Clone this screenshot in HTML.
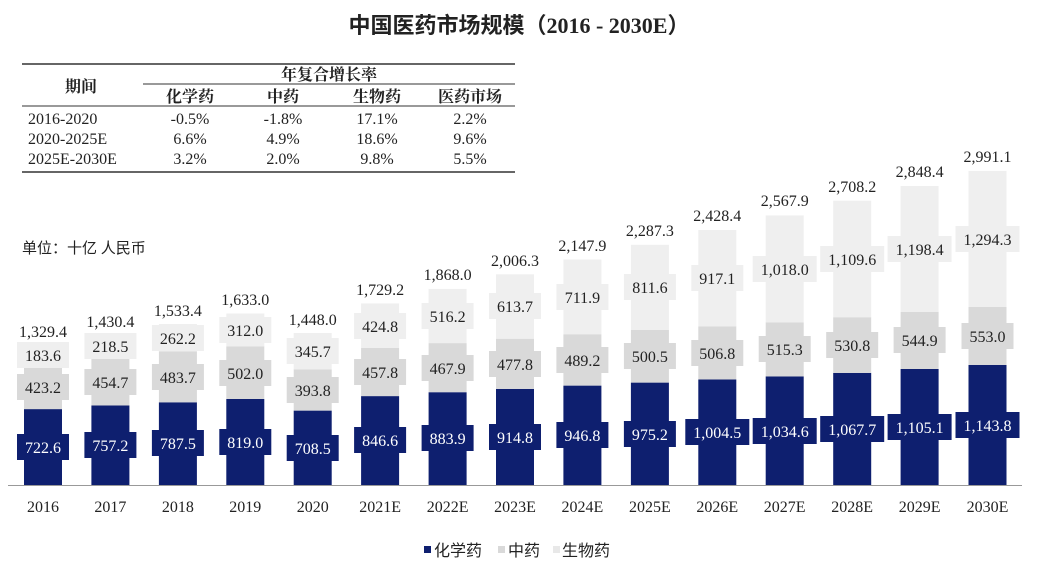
<!DOCTYPE html>
<html><head><meta charset="utf-8"><style>
html,body{margin:0;padding:0;background:#fff;}
svg{display:block;}
text{font-family:"Liberation Serif","Noto Serif CJK SC","Noto Sans CJK SC",serif;fill:#222;}
.cj{font-family:"Liberation Serif","Noto Sans CJK SC",sans-serif;}
.v{font-size:16px;text-anchor:middle;}
.w{fill:#fff;}
.c{fill:#0e1f6f;} .m{fill:#d9d9d9;} .b{fill:#efefef;}
</style></head><body>
<svg width="1039" height="570" viewBox="0 0 1039 570" xmlns="http://www.w3.org/2000/svg">
<text x="519" y="33" class="cj" font-size="22" font-weight="bold" text-anchor="middle">中国医药市场规模（2016 - 2030E）</text>
<line x1="22" y1="64" x2="515" y2="64" stroke="#333" stroke-width="1.5"/>
<line x1="143" y1="84" x2="515" y2="84" stroke="#333" stroke-width="1"/>
<line x1="22" y1="106" x2="515" y2="106" stroke="#333" stroke-width="1"/>
<line x1="22" y1="172" x2="515" y2="172" stroke="#333" stroke-width="1.5"/>
<g class="cj" font-size="16" text-anchor="middle" font-weight="bold">
<text x="81" y="92">期间</text>
<text x="329" y="80">年复合增长率</text>
<text x="190" y="102">化学药</text>
<text x="283" y="102">中药</text>
<text x="377" y="102">生物药</text>
<text x="470" y="102">医药市场</text>
</g>
<g font-size="16">
<text x="28" y="124">2016-2020</text>
<text x="28" y="144">2020-2025E</text>
<text x="28" y="164">2025E-2030E</text>
</g>
<g font-size="16" text-anchor="middle">
<text x="190" y="124">-0.5%</text><text x="283" y="124">-1.8%</text><text x="377" y="124">17.1%</text><text x="470" y="124">2.2%</text>
<text x="190" y="144">6.6%</text><text x="283" y="144">4.9%</text><text x="377" y="144">18.6%</text><text x="470" y="144">9.6%</text>
<text x="190" y="164">3.2%</text><text x="283" y="164">2.0%</text><text x="377" y="164">9.8%</text><text x="470" y="164">5.5%</text>
</g>
<text x="22" y="253" class="cj" font-size="15">单位：十亿 人民币</text>

<g transform="translate(43,0)">
<rect x="-19" y="409.1" width="38" height="75.9" class="c"/><rect x="-19" y="364.7" width="38" height="44.4" class="m"/><rect x="-19" y="345.4" width="38" height="19.3" class="b"/>
<rect x="-26" y="434" width="52" height="26" class="c"/><rect x="-26" y="374" width="52" height="26" class="m"/><rect x="-26" y="342" width="52" height="26" class="b"/>
<text class="v w" y="453">722.6</text><text class="v" y="393">423.2</text><text class="v" y="361">183.6</text><text class="v" y="337">1,329.4</text></g>
<g transform="translate(110.4,0)">
<rect x="-19" y="405.5" width="38" height="79.5" class="c"/><rect x="-19" y="357.8" width="38" height="47.7" class="m"/><rect x="-19" y="334.9" width="38" height="22.9" class="b"/>
<rect x="-26" y="432" width="52" height="26" class="c"/><rect x="-26" y="369" width="52" height="26" class="m"/><rect x="-26" y="333" width="52" height="26" class="b"/>
<text class="v w" y="451">757.2</text><text class="v" y="388">454.7</text><text class="v" y="352">218.5</text><text class="v" y="327">1,430.4</text></g>
<g transform="translate(177.9,0)">
<rect x="-19" y="402.3" width="38" height="82.7" class="c"/><rect x="-19" y="351.5" width="38" height="50.8" class="m"/><rect x="-19" y="324" width="38" height="27.5" class="b"/>
<rect x="-26" y="430" width="52" height="26" class="c"/><rect x="-26" y="364" width="52" height="26" class="m"/><rect x="-26" y="325" width="52" height="26" class="b"/>
<text class="v w" y="449">787.5</text><text class="v" y="383">483.7</text><text class="v" y="344">262.2</text><text class="v" y="316">1,533.4</text></g>
<g transform="translate(245.3,0)">
<rect x="-19" y="399" width="38" height="86" class="c"/><rect x="-19" y="346.3" width="38" height="52.7" class="m"/><rect x="-19" y="313.5" width="38" height="32.8" class="b"/>
<rect x="-26" y="429" width="52" height="26" class="c"/><rect x="-26" y="360" width="52" height="26" class="m"/><rect x="-26" y="317" width="52" height="26" class="b"/>
<text class="v w" y="448">819.0</text><text class="v" y="379">502.0</text><text class="v" y="336">312.0</text><text class="v" y="305">1,633.0</text></g>
<g transform="translate(312.7,0)">
<rect x="-19" y="410.6" width="38" height="74.4" class="c"/><rect x="-19" y="369.3" width="38" height="41.3" class="m"/><rect x="-19" y="333" width="38" height="36.3" class="b"/>
<rect x="-26" y="435" width="52" height="26" class="c"/><rect x="-26" y="377" width="52" height="26" class="m"/><rect x="-26" y="338" width="52" height="26" class="b"/>
<text class="v w" y="454">708.5</text><text class="v" y="396">393.8</text><text class="v" y="357">345.7</text><text class="v" y="325">1,448.0</text></g>
<g transform="translate(380.1,0)">
<rect x="-19" y="396.1" width="38" height="88.9" class="c"/><rect x="-19" y="348" width="38" height="48.1" class="m"/><rect x="-19" y="303.4" width="38" height="44.6" class="b"/>
<rect x="-26" y="427" width="52" height="26" class="c"/><rect x="-26" y="359" width="52" height="26" class="m"/><rect x="-26" y="313" width="52" height="26" class="b"/>
<text class="v w" y="446">846.6</text><text class="v" y="378">457.8</text><text class="v" y="332">424.8</text><text class="v" y="295">1,729.2</text></g>
<g transform="translate(447.6,0)">
<rect x="-19" y="392.2" width="38" height="92.8" class="c"/><rect x="-19" y="343.1" width="38" height="49.1" class="m"/><rect x="-19" y="288.9" width="38" height="54.2" class="b"/>
<rect x="-26" y="425" width="52" height="26" class="c"/><rect x="-26" y="355" width="52" height="26" class="m"/><rect x="-26" y="303" width="52" height="26" class="b"/>
<text class="v w" y="444">883.9</text><text class="v" y="374">467.9</text><text class="v" y="322">516.2</text><text class="v" y="280">1,868.0</text></g>
<g transform="translate(515,0)">
<rect x="-19" y="388.9" width="38" height="96.1" class="c"/><rect x="-19" y="338.7" width="38" height="50.2" class="m"/><rect x="-19" y="274.3" width="38" height="64.4" class="b"/>
<rect x="-26" y="424" width="52" height="26" class="c"/><rect x="-26" y="351" width="52" height="26" class="m"/><rect x="-26" y="293" width="52" height="26" class="b"/>
<text class="v w" y="443">914.8</text><text class="v" y="370">477.8</text><text class="v" y="312">613.7</text><text class="v" y="266">2,006.3</text></g>
<g transform="translate(582.4,0)">
<rect x="-19" y="385.6" width="38" height="99.4" class="c"/><rect x="-19" y="334.2" width="38" height="51.4" class="m"/><rect x="-19" y="259.5" width="38" height="74.7" class="b"/>
<rect x="-26" y="422" width="52" height="26" class="c"/><rect x="-26" y="347" width="52" height="26" class="m"/><rect x="-26" y="284" width="52" height="26" class="b"/>
<text class="v w" y="441">946.8</text><text class="v" y="366">489.2</text><text class="v" y="303">711.9</text><text class="v" y="251">2,147.9</text></g>
<g transform="translate(649.9,0)">
<rect x="-19" y="382.6" width="38" height="102.4" class="c"/><rect x="-19" y="330" width="38" height="52.6" class="m"/><rect x="-19" y="244.8" width="38" height="85.2" class="b"/>
<rect x="-26" y="421" width="52" height="26" class="c"/><rect x="-26" y="343" width="52" height="26" class="m"/><rect x="-26" y="274" width="52" height="26" class="b"/>
<text class="v w" y="440">975.2</text><text class="v" y="362">500.5</text><text class="v" y="293">811.6</text><text class="v" y="236">2,287.3</text></g>
<g transform="translate(717.3,0)">
<rect x="-19" y="379.5" width="38" height="105.5" class="c"/><rect x="-19" y="326.3" width="38" height="53.2" class="m"/><rect x="-19" y="230" width="38" height="96.3" class="b"/>
<rect x="-32" y="419" width="64" height="26" class="c"/><rect x="-26" y="340" width="52" height="26" class="m"/><rect x="-26" y="265" width="52" height="26" class="b"/>
<text class="v w" y="438">1,004.5</text><text class="v" y="359">506.8</text><text class="v" y="284">917.1</text><text class="v" y="221">2,428.4</text></g>
<g transform="translate(784.7,0)">
<rect x="-19" y="376.4" width="38" height="108.6" class="c"/><rect x="-19" y="322.3" width="38" height="54.1" class="m"/><rect x="-19" y="215.4" width="38" height="106.9" class="b"/>
<rect x="-32" y="418" width="64" height="26" class="c"/><rect x="-26" y="336" width="52" height="26" class="m"/><rect x="-32" y="256" width="64" height="26" class="b"/>
<text class="v w" y="437">1,034.6</text><text class="v" y="355">515.3</text><text class="v" y="275">1,018.0</text><text class="v" y="206">2,567.9</text></g>
<g transform="translate(852.2,0)">
<rect x="-19" y="372.9" width="38" height="112.1" class="c"/><rect x="-19" y="317.2" width="38" height="55.7" class="m"/><rect x="-19" y="200.7" width="38" height="116.5" class="b"/>
<rect x="-32" y="416" width="64" height="26" class="c"/><rect x="-26" y="332" width="52" height="26" class="m"/><rect x="-32" y="246" width="64" height="26" class="b"/>
<text class="v w" y="435">1,067.7</text><text class="v" y="351">530.8</text><text class="v" y="265">1,109.6</text><text class="v" y="192">2,708.2</text></g>
<g transform="translate(919.6,0)">
<rect x="-19" y="369" width="38" height="116" class="c"/><rect x="-19" y="311.8" width="38" height="57.2" class="m"/><rect x="-19" y="186" width="38" height="125.8" class="b"/>
<rect x="-32" y="414" width="64" height="26" class="c"/><rect x="-26" y="327" width="52" height="26" class="m"/><rect x="-32" y="236" width="64" height="26" class="b"/>
<text class="v w" y="433">1,105.1</text><text class="v" y="346">544.9</text><text class="v" y="255">1,198.4</text><text class="v" y="177">2,848.4</text></g>
<g transform="translate(987.5,0)">
<rect x="-19" y="364.9" width="38" height="120.1" class="c"/><rect x="-19" y="306.8" width="38" height="58.1" class="m"/><rect x="-19" y="170.9" width="38" height="135.9" class="b"/>
<rect x="-32" y="412" width="64" height="26" class="c"/><rect x="-26" y="323" width="52" height="26" class="m"/><rect x="-32" y="226" width="64" height="26" class="b"/>
<text class="v w" y="431">1,143.8</text><text class="v" y="342">553.0</text><text class="v" y="245">1,294.3</text><text class="v" y="162">2,991.1</text></g>

<line x1="8" y1="485.5" x2="1022" y2="485.5" stroke="#999" stroke-width="1"/>
<g font-size="16" text-anchor="middle">
<text x="43" y="512">2016</text><text x="110.4" y="512">2017</text><text x="177.9" y="512">2018</text><text x="245.3" y="512">2019</text><text x="312.7" y="512">2020</text>
<text x="380.1" y="512">2021E</text><text x="447.6" y="512">2022E</text><text x="515" y="512">2023E</text><text x="582.4" y="512">2024E</text><text x="649.9" y="512">2025E</text>
<text x="717.3" y="512">2026E</text><text x="784.7" y="512">2027E</text><text x="852.2" y="512">2028E</text><text x="919.6" y="512">2029E</text><text x="987.5" y="512">2030E</text>
</g>
<rect x="424" y="546" width="7" height="7" class="c"/><text x="434" y="556" class="cj" font-size="16">化学药</text>
<rect x="498" y="546" width="7" height="7" class="m"/><text x="508" y="556" class="cj" font-size="16">中药</text>
<rect x="553" y="546" width="7" height="7" class="m" style="fill:#e8e8e8"/><text x="562" y="556" class="cj" font-size="16">生物药</text>
</svg>
</body></html>
